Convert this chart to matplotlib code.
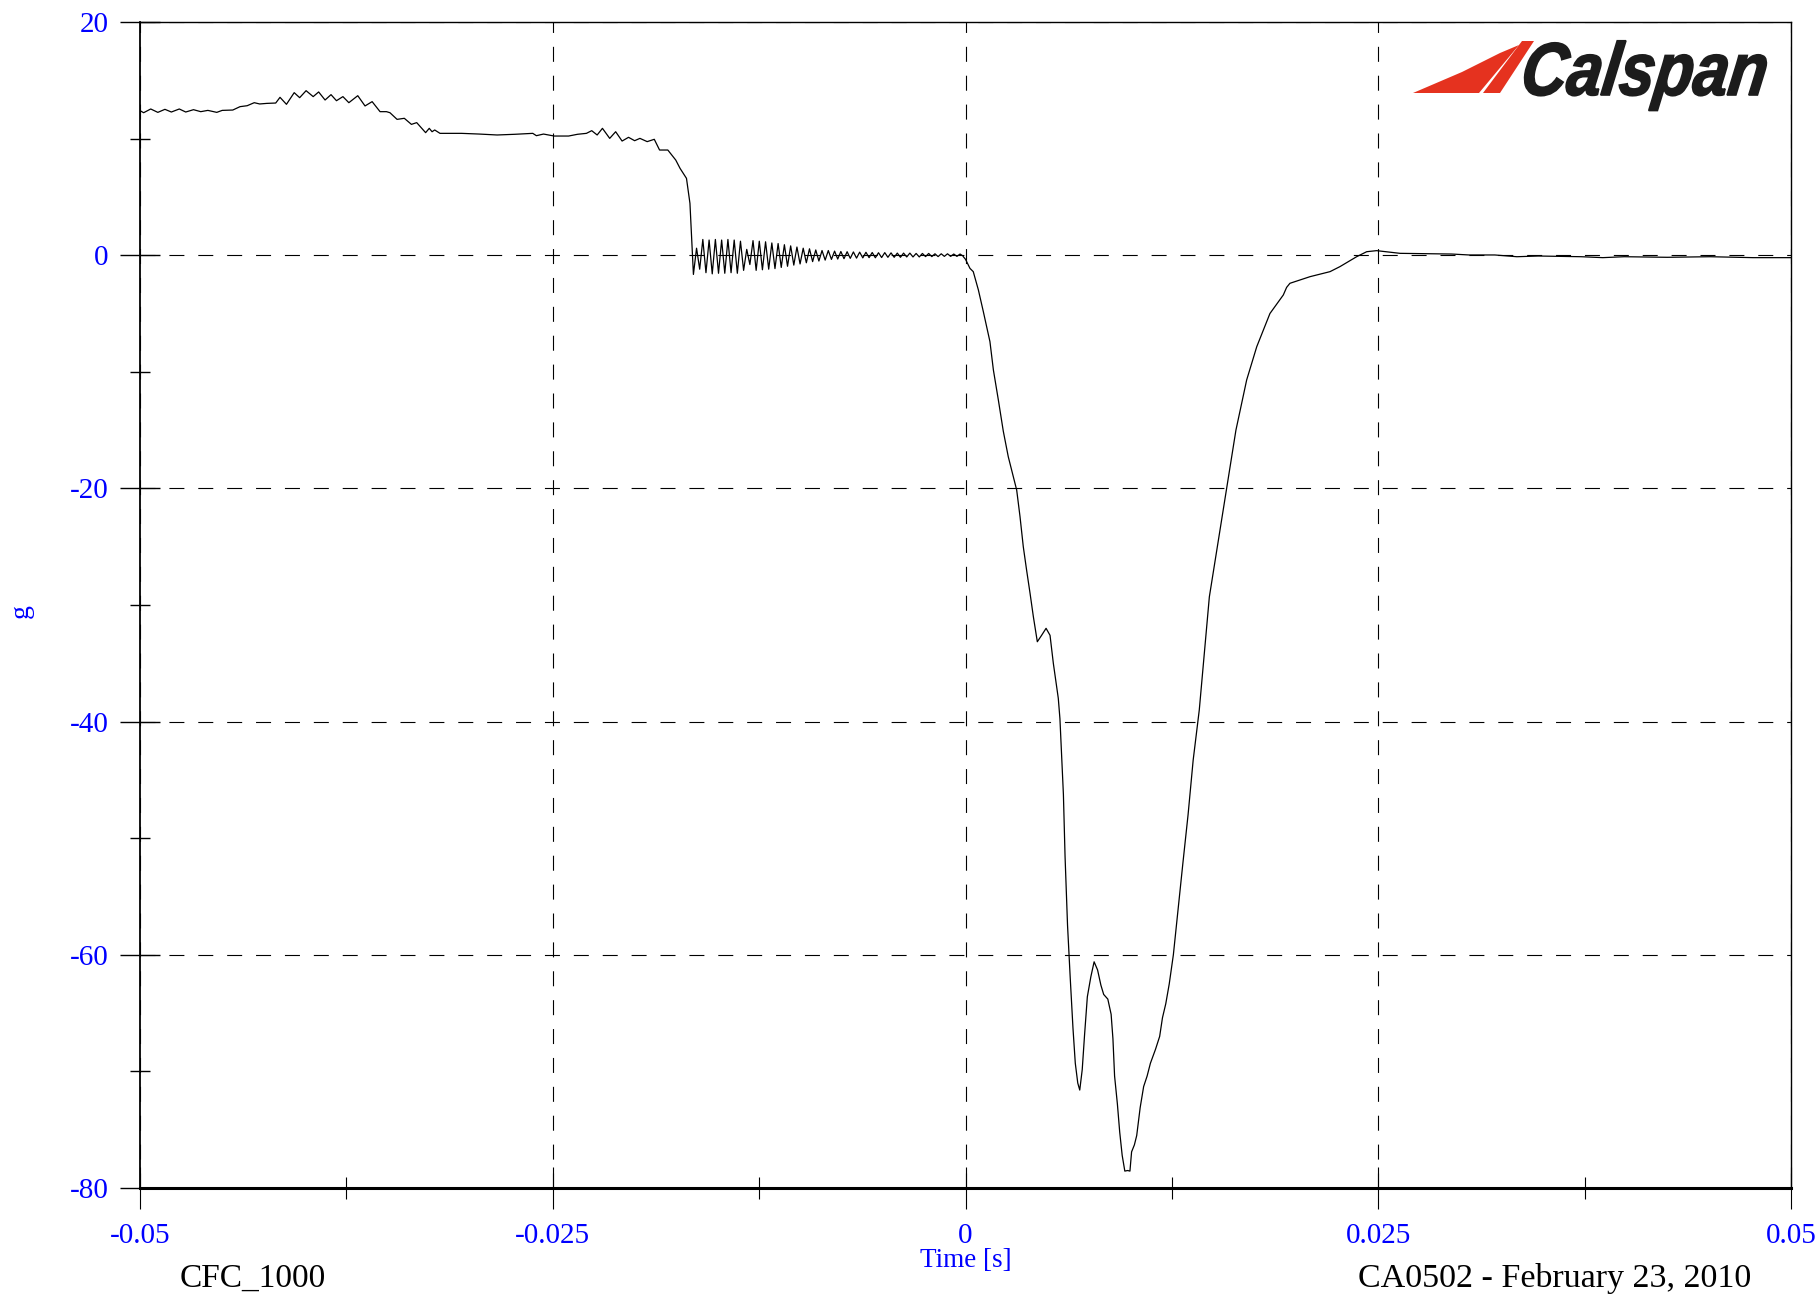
import numpy as np
import matplotlib
matplotlib.use('Agg')
import matplotlib.pyplot as plt
from matplotlib.textpath import TextPath
from matplotlib.patches import PathPatch, Polygon
from matplotlib.font_manager import FontProperties
from matplotlib.transforms import Affine2D, IdentityTransform

# time in ms, acceleration in g
pre_t = [-50.0, -49.78, -49.35, -48.92, -48.49, -48.10, -47.62, -47.23, -46.76, -46.32,
         -45.89, -45.35, -45.02, -44.38, -43.94, -43.51, -43.08, -42.75, -42.32, -41.78,
         -41.52, -41.13, -40.66, -40.33, -39.94, -39.51, -39.18, -38.79, -38.43, -38.10,
         -37.71, -37.35, -36.81, -36.37, -35.94, -35.46, -35.07, -34.86, -34.43, -33.99,
         -33.56, -33.24, -32.70, -32.48, -32.31, -32.15, -31.83, -30.53, -29.45, -28.37,
         -27.29, -26.21, -25.99, -25.56, -24.91, -24.04, -23.50, -22.96, -22.64, -22.31,
         -21.99, -21.55, -21.19, -20.80, -20.41, -20.04, -19.72, -19.28, -18.85, -18.53,
         -18.03, -17.55, -17.29, -16.90, -16.69]
pre_g = [12.40, 12.22, 12.54, 12.25, 12.51, 12.28, 12.54, 12.28, 12.48, 12.31,
         12.42, 12.25, 12.42, 12.45, 12.74, 12.82, 13.08, 12.97, 13.02, 13.05,
         13.54, 12.94, 13.94, 13.51, 14.11, 13.60, 14.00, 13.31, 13.77, 13.25,
         13.60, 13.08, 13.68, 12.80, 13.17, 12.31, 12.31, 12.22, 11.65, 11.74,
         11.22, 11.37, 10.51, 10.88, 10.59, 10.74, 10.45, 10.45, 10.39, 10.31,
         10.37, 10.45, 10.25, 10.39, 10.22, 10.22, 10.37, 10.45, 10.68, 10.31,
         10.88, 10.02, 10.59, 9.79, 10.11, 9.82, 10.02, 9.74, 9.94, 9.02,
         9.02, 8.16, 7.45, 6.59, 4.45]

ring_t = [-16.48, -16.29, -16.10, -15.91, -15.72, -15.53, -15.34, -15.15, -14.96, -14.77,
          -14.58, -14.39, -14.20, -14.01, -13.82, -13.63, -13.44, -13.25, -13.06, -12.87,
          -12.68, -12.49, -12.30, -12.11, -11.92, -11.73, -11.54, -11.35, -11.16, -10.97,
          -10.78, -10.59, -10.40, -10.21, -10.02, -9.83, -9.64, -9.45, -9.26, -9.07,
          -8.88, -8.69, -8.50, -8.31, -8.12, -7.93, -7.74, -7.55, -7.36, -7.17,
          -6.98, -6.79, -6.60, -6.41, -6.22, -6.03, -5.84, -5.65, -5.46, -5.27,
          -5.08, -4.89, -4.70, -4.51, -4.32, -4.13, -3.94, -3.75, -3.56, -3.37,
          -3.18, -2.99, -2.80, -2.61, -2.42, -2.23, -2.04, -1.85, -1.66, -1.47,
          -1.28, -1.09, -0.90, -0.71, -0.52, -0.33, -0.14]
ring_g = [-1.65, 0.6, -1.2, 1.35, -1.5, 1.3, -1.6, 1.35, -1.55, 1.3,
          -1.55, 1.35, -1.5, 1.3, -1.55, 1.2, -1.3, 0.5, -0.8, 1.25,
          -1.3, 1.2, -1.25, 1.15, -1.2, 1.05, -1.15, 1.0, -1.05, 0.9,
          -0.95, 0.8, -0.85, 0.7, -0.75, 0.6, -0.65, 0.55, -0.55, 0.45,
          -0.5, 0.4, -0.42, 0.4, -0.36, 0.35, -0.33, 0.32, -0.3, 0.3,
          -0.27, 0.28, -0.25, 0.26, -0.23, 0.25, -0.21, 0.23, -0.22, 0.21,
          -0.2, 0.22, -0.18, 0.2, -0.18, 0.18, -0.18, 0.18, -0.15, 0.18,
          -0.15, 0.15, -0.15, 0.15, -0.12, 0.15, -0.12, 0.12, -0.12, 0.12,
          -0.1, 0.12, -0.1, 0.1, -0.1, 0.1, -0.08]

pulse_t = [-0.13, 0.0, 0.27, 0.47, 0.78, 1.08, 1.28, 1.48, 1.69, 1.99,
           2.29, 2.59, 2.90, 3.10, 3.30, 3.50, 3.70, 3.91, 4.11, 4.35,
           4.61, 4.88, 5.12, 5.32, 5.62, 5.72, 5.93, 6.03, 6.18, 6.34,
           6.51, 6.65, 6.80, 6.92, 7.07, 7.21, 7.38, 7.59, 7.79, 8.0,
           8.2, 8.37, 8.62, 8.82, 8.93, 9.03, 9.2, 9.34, 9.49, 9.65,
           9.82, 9.96, 10.06, 10.23, 10.37, 10.58, 10.79, 11.0, 11.2, 11.51,
           11.76, 11.93, 12.13, 12.34, 12.59, 12.86, 13.17, 13.48, 13.79, 14.16,
           14.77, 15.82, 16.38, 17.03, 17.64, 18.44, 19.25, 19.45, 19.65, 20.87,
           22.08, 22.68, 23.69, 24.30, 24.90, 26.32, 27.5, 29.45, 30.5, 32.06,
           33.4, 34.7, 37.3, 38.6, 39.9, 42.5, 45.1, 47.7, 50.0]
pulse_g = [-0.13, -0.35, -1.13, -1.41, -2.98, -4.84, -6.13, -7.41, -9.85, -12.42,
           -15.1, -17.28, -19.0, -20.14, -22.4, -25.0, -27.0, -29.0, -31.0, -33.15,
           -32.6, -32.0, -32.6, -35.0, -38.0, -39.76, -46.25, -51.56, -57.46, -61.9,
           -66.3, -69.3, -71.0, -71.6, -69.85, -66.9, -63.6, -61.9, -60.6, -61.3,
           -62.6, -63.4, -63.8, -65.1, -67.2, -70.4, -72.8, -75.2, -77.2, -78.55,
           -78.5, -78.55, -76.9, -76.3, -75.5, -73.1, -71.3, -70.4, -69.3, -68.1,
           -67.0, -65.4, -64.2, -62.5, -60.0, -56.3, -52.1, -48.0, -43.3, -39.0,
           -29.3, -20.0, -15.0, -10.7, -7.85, -5.0, -3.41, -2.76, -2.41, -1.84,
           -1.41, -0.98, -0.13, 0.30, 0.39, 0.16, 0.14, 0.10, 0.02, 0.02,
           -0.13, -0.07, -0.13, -0.21, -0.13, -0.18, -0.13, -0.21, -0.21]

x_ticks = [-0.05, -0.025, 0, 0.025, 0.05]
x_labels = ['-0.05', '-0.025', '0', '0.025', '0.05']
y_ticks = [20, 0, -20, -40, -60, -80]
y_labels = ['20', '0', '-20', '-40', '-60', '-80']

plt.rcParams['font.family'] = ['Liberation Serif', 'DejaVu Serif']
BLUE = '#0000ff'
W, H = 1818, 1296

t = np.array(pre_t + ring_t + pulse_t) / 1000.0
g = np.array(pre_g + ring_g + pulse_g)

fig = plt.figure(figsize=(W / 100, H / 100), dpi=100)
ax = fig.add_axes([140 / W, 1 - 1188 / H, (1791 - 140) / W, (1188 - 22) / H])

ax.plot(t, g, color='black', lw=0.9, zorder=3)

ax.set_xlim(-0.05, 0.05)
ax.set_ylim(-80, 20)
ax.set_xticks(x_ticks, x_labels)
ax.set_xticks([-0.0375, -0.0125, 0.0125, 0.0375], minor=True)
ax.set_yticks(y_ticks, y_labels)
ax.set_yticks([10, -10, -30, -50, -70], minor=True)

ax.grid(which='major', color='black', lw=0.8, linestyle=(0, (13.5, 12.5)))

ax.tick_params(axis='y', which='major', direction='inout', length=29.5, width=1.0,
               pad=8, labelsize=21, labelcolor=BLUE)
ax.tick_params(axis='y', which='minor', direction='inout', length=15, width=1.0)
ax.tick_params(axis='x', which='major', direction='inout', length=30, width=0.8,
               pad=10, labelsize=21, labelcolor=BLUE)
ax.tick_params(axis='x', which='minor', direction='inout', length=16, width=0.8)

ax.spines['left'].set_linewidth(1.3)
ax.spines['bottom'].set_linewidth(2.2)
ax.spines['top'].set_linewidth(1.0)
ax.spines['right'].set_linewidth(1.0)

fig.text(965.5 / W, 1 - 1267 / H, 'Time [s]', color=BLUE, fontsize=19.5,
         ha='center', va='baseline')
fig.text(21 / W, 1 - 611 / H, 'g', color=BLUE, fontsize=20, rotation=90,
         ha='center', va='center')
fig.text(180 / W, 1 - 1287 / H, 'CFC_1000', fontsize=24, ha='left', va='baseline')
fig.text(1751 / W, 1 - 1287 / H, 'CA0502 - February 23, 2010', fontsize=24.5,
         ha='right', va='baseline')

# Calspan logo, top right
fp = FontProperties(family='Liberation Sans', weight='bold', style='italic')
tp = TextPath((0, 0), 'Calspan', size=100, prop=fp)
ext = tp.get_extents()
cap = TextPath((0, 0), 'C', size=100, prop=fp).get_extents().height
sx = 240 / ext.width
sy = 53 / cap
logo_tf = (Affine2D().translate(-ext.x0, 0).scale(sx, sy)
           .skew_deg(8, 0).translate(1522, H - 95))
fig.add_artist(PathPatch(logo_tf.transform_path(tp), facecolor='#1c1c1c',
                         edgecolor='#1c1c1c', lw=1.2, transform=IdentityTransform()))

swoosh_a = [(1413, 93), (1479, 93), (1519, 45), (1500, 53), (1462, 72)]
swoosh_b = [(1483, 93), (1500, 93), (1534, 41), (1522, 41)]
for pts in (swoosh_a, swoosh_b):
    fig.add_artist(Polygon([(x, H - y) for x, y in pts], closed=True,
                           facecolor='#e5321f', edgecolor='none',
                           transform=IdentityTransform()))

fig.savefig('out.png', dpi=100)
